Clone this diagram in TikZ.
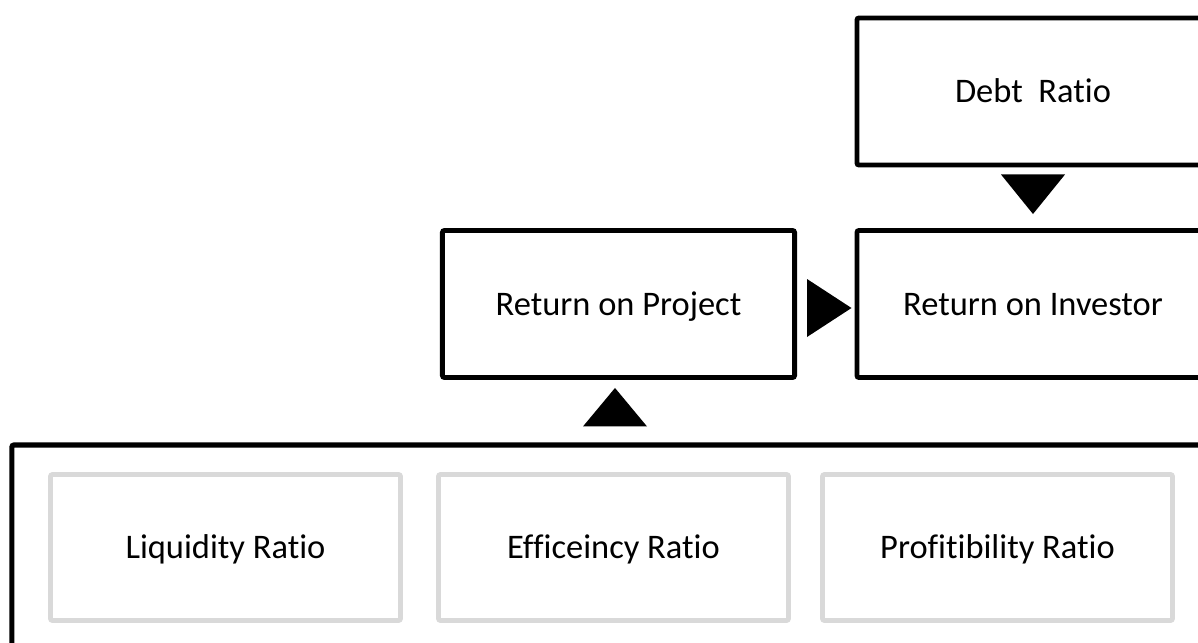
\documentclass[tikz,border=0pt]{standalone}
\usepackage{fontspec}
\setmainfont{Carlito}[Ligatures={NoCommon}]
\usepackage{tikz}
\usetikzlibrary{calc}

\begin{document}
\begin{tikzpicture}[x=0.025cm,y=-0.025cm,
	blackbox/.style={draw=black,line width=3.5pt,rounded corners=1.5pt,minimum width=8.8cm,minimum height=3.675cm,inner sep=0pt,text height=21pt,text depth=5pt,font=\fontsize{24.5}{28}\selectfont},
	graybox/.style={draw=boxgray,line width=3.4pt,rounded corners=1.5pt,minimum width=8.75cm,minimum height=3.65cm,inner sep=0pt,text height=21pt,text depth=5pt,font=\fontsize{24.5}{28}\selectfont},
	arrowhead/.style={fill=black}]
\definecolor{boxgray}{HTML}{D9D9D9}
\useasboundingbox (0,0) rectangle (1198,643);
\clip (0,0) rectangle (1198,643);
% upper row
\node[blackbox] (debt) at (1033,91.5) {Debt\ \ Ratio};
\node[blackbox] (project) at (618.5,304) {Return on Project};
\node[blackbox] (invest) at (1033,304) {Return on Investor};
% frame with the three ratios
\node[draw=black,line width=3.6pt,rounded corners=1.5pt,minimum width=30.1cm,minimum height=5.4cm,inner sep=0pt] (ratios) at (614,553) {};
\node[graybox] (liquid) at (225.5,547.5) {Liquidity Ratio};
\node[graybox] (effic) at (613.5,547.5) {Efficeincy Ratio};
\node[graybox] (profit) at (997.5,547.5) {Profitibility Ratio};
% triangles
\fill[arrowhead] ($(debt.south)+(-32,7)$) -- ($(debt.south)+(32,7)$) -- ($(invest.north)+(0,-14)$) -- cycle;
\fill[arrowhead] ($(project.east)+(10,-25)$) -- ($(project.east)+(10,33)$) -- ($(invest.west)+(-3,4)$) -- cycle;
\fill[arrowhead] ($(ratios.north)+(-31,-16)$) -- ($(ratios.north)+(33,-16)$) -- ($(project.south)+(-3.5,8)$) -- cycle;
\end{tikzpicture}
\end{document}
